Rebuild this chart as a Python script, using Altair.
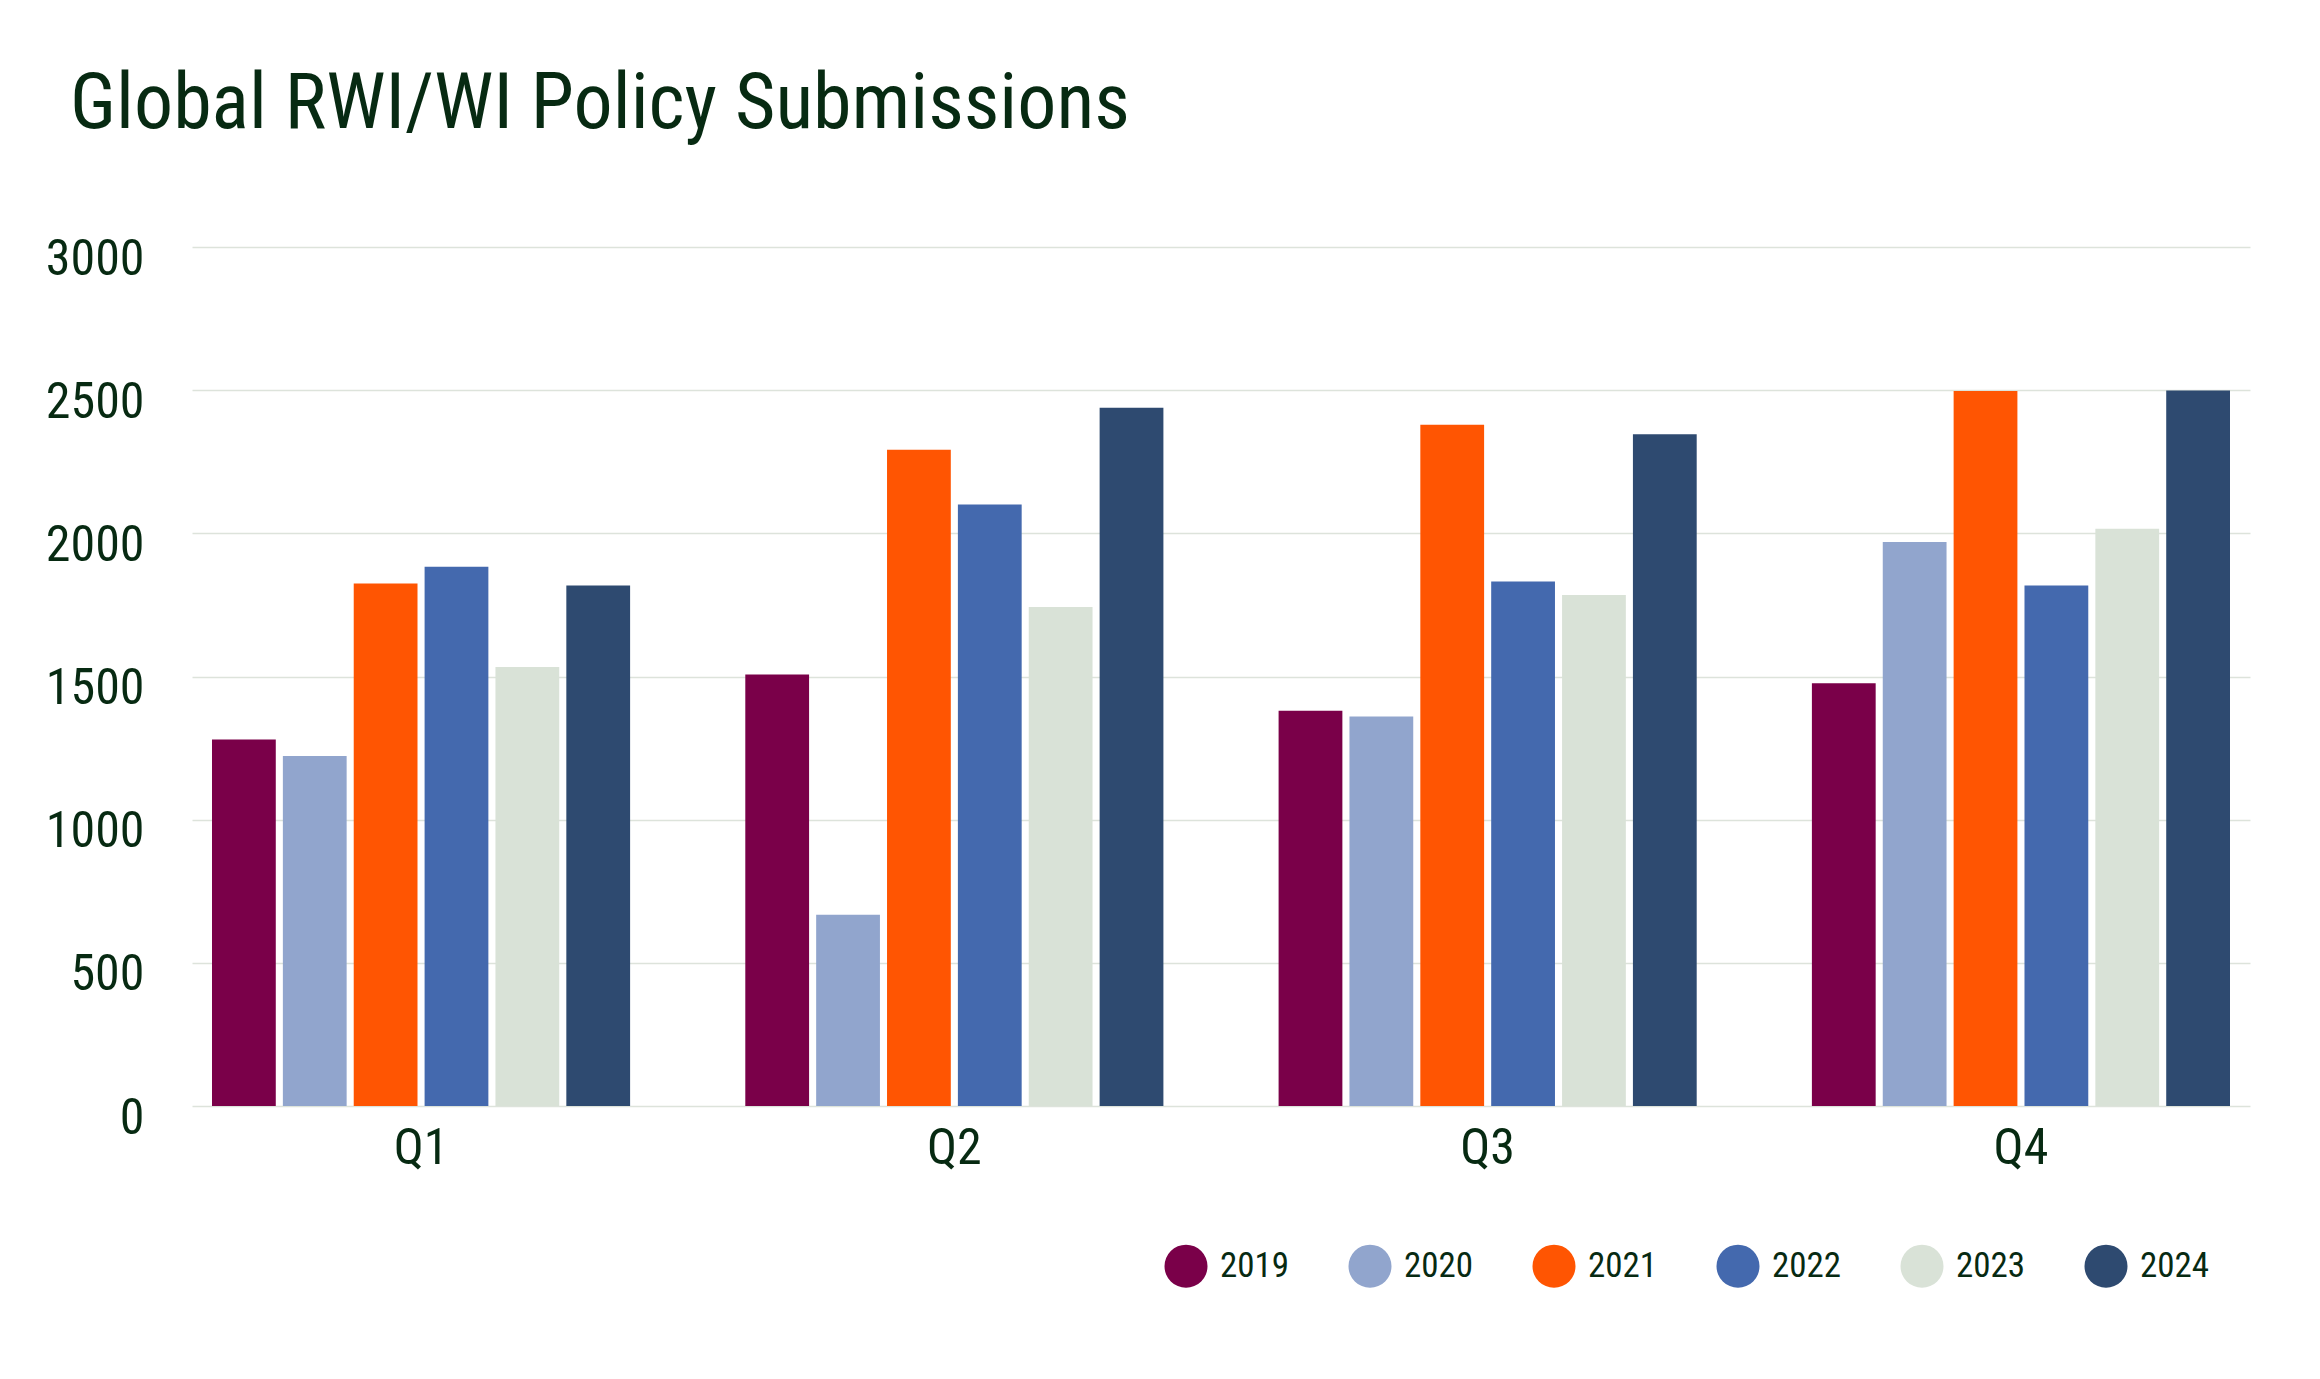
"""Grouped bar chart of global RWI/WI policy submissions by quarter."""

import pandas as pd
import altair as alt

quarters = ["Q1", "Q2", "Q3", "Q4"]
years = ["2019", "2020", "2021", "2022", "2023", "2024"]

subs_2019 = [1280, 1507, 1380, 1476]
subs_2020 = [1222, 668, 1360, 1970]
subs_2021 = [1825, 2292, 2379, 2497]
subs_2022 = [1883, 2101, 1832, 1818]
subs_2023 = [1533, 1743, 1785, 2016]
subs_2024 = [1818, 2439, 2346, 2499]

year_colors = ["#7a0049", "#91a5cd", "#ff5502", "#4469ae", "#d9e2d7", "#2e4a70"]

FONT = "Roboto Condensed, Liberation Sans Narrow, Roboto, sans-serif"
TEXT_COLOR = "#072a12"
GRID_COLOR = "#dde3db"

series = [subs_2019, subs_2020, subs_2021, subs_2022, subs_2023, subs_2024]
rows = []
for year, values in zip(years, series):
    for quarter, value in zip(quarters, values):
        rows.append({"quarter": quarter, "year": year, "submissions": value})
df = pd.DataFrame(rows)

chart = (
    alt.Chart(df)
    .mark_bar()
    .encode(
        x=alt.X(
            "quarter:N",
            sort=quarters,
            title=None,
            scale=alt.Scale(paddingInner=0.216, paddingOuter=0.0375),
            axis=alt.Axis(
                labelAngle=0,
                labelFontSize=50,
                labelPadding=17,
                ticks=False,
                domain=False,
            ),
        ),
        xOffset=alt.XOffset("year:N", sort=years, scale=alt.Scale(paddingInner=0.1)),
        y=alt.Y(
            "submissions:Q",
            title=None,
            scale=alt.Scale(domain=[0, 3000]),
            axis=alt.Axis(
                values=[0, 500, 1000, 1500, 2000, 2500, 3000],
                format="d",
                labelFontSize=50,
                labelPadding=48,
                labelOffset=12,
                ticks=False,
                domain=False,
                gridColor=GRID_COLOR,
                gridWidth=1.5,
            ),
        ),
        color=alt.Color(
            "year:N",
            sort=years,
            scale=alt.Scale(domain=years, range=year_colors),
            legend=alt.Legend(
                title=None,
                orient="none",
                direction="horizontal",
                columns=6,
                legendX=972,
                legendY=997,
                symbolType="circle",
                symbolSize=1850,
                symbolStrokeWidth=0,
                symbolOpacity=1,
                labelFontSize=35,
                labelOffset=12,
                columnPadding=58,
                padding=0,
            ),
        ),
    )
    .properties(
        width=2058,
        height=859,
        title=alt.TitleParams(
            text="Global RWI/WI Policy Submissions",
            anchor="start",
            frame="group",
            fontSize=78,
            fontWeight="normal",
            color=TEXT_COLOR,
            dx=-122,
            offset=90,
        ),
        padding={"left": 184, "top": 239, "right": 60, "bottom": 260},
        autosize=alt.AutoSizeParams(type="none"),
    )
    .configure(font=FONT)
    .configure_view(stroke=None)
    .configure_axis(labelColor=TEXT_COLOR, labelFont=FONT)
    .configure_legend(labelColor=TEXT_COLOR, labelFont=FONT)
    .configure_title(font=FONT)
)

chart.save("out.html", embed_options={"renderer": "svg", "actions": False})
